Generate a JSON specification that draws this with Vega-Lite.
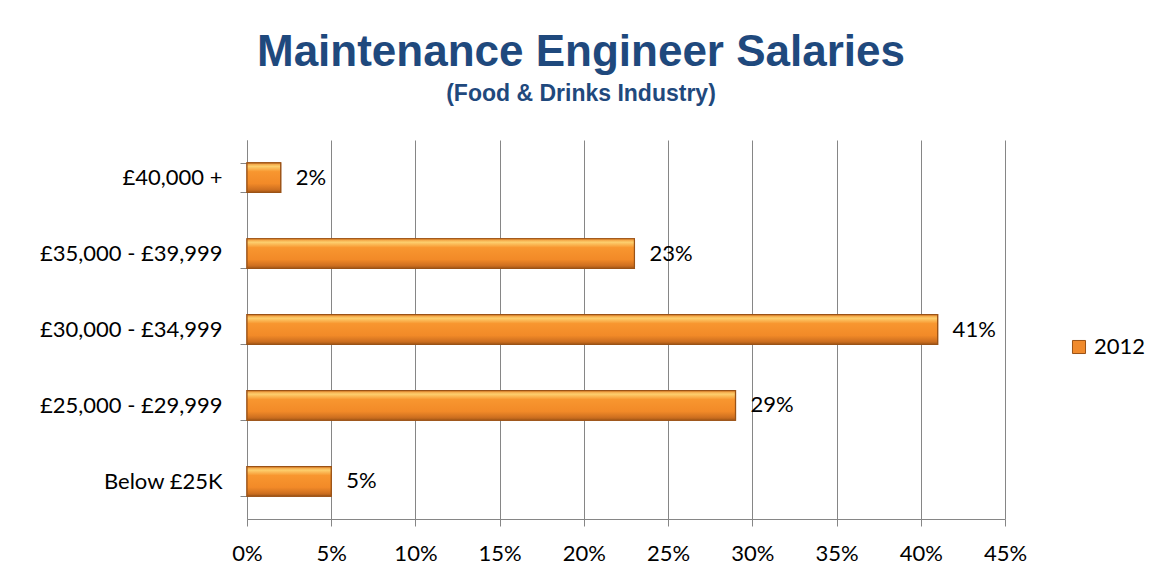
{
  "$schema": "https://vega.github.io/schema/vega-lite/v6.json",
  "autosize": {"type": "none"},
  "width": 758,
  "height": 379,
  "padding": {"left": 247, "top": 140, "right": 161, "bottom": 60},
  "background": "white",
  "config": {"view": {"stroke": null}},
  "title": {
    "text": "Maintenance Engineer Salaries",
    "subtitle": "(Food & Drinks Industry)",
    "anchor": "middle",
    "frame": "group",
    "dx": -45,
    "offset": 23,
    "font": "Liberation Sans",
    "fontSize": 44,
    "fontWeight": "bold",
    "color": "#1F497D",
    "subtitleFont": "Liberation Sans",
    "subtitleFontSize": 23,
    "subtitleFontWeight": "bold",
    "subtitleColor": "#1F497D",
    "subtitlePadding": 8
  },
  "data": {
    "values": [
      {"band": "£40,000 +", "pct": 0.02, "series": "2012"},
      {"band": "£35,000 - £39,999", "pct": 0.23, "series": "2012"},
      {"band": "£30,000 - £34,999", "pct": 0.41, "series": "2012"},
      {"band": "£25,000 - £29,999", "pct": 0.29, "series": "2012"},
      {"band": "Below £25K", "pct": 0.05, "series": "2012"}
    ]
  },
  "encoding": {
    "y": {
      "field": "band",
      "type": "nominal",
      "sort": null,
      "scale": {"paddingInner": 0.61, "paddingOuter": 0.3},
      "axis": {
        "title": null,
        "tickBand": "extent",
        "domainColor": "#868686",
        "tickColor": "#868686",
        "tickSize": 7,
        "labelPadding": 18,
        "labelLimit": 400,
        "labelFont": "Lato",
        "labelFontSize": 22,
        "labelColor": "#000000",
        "grid": false
      }
    },
    "x": {
      "field": "pct",
      "type": "quantitative",
      "scale": {"domain": [0, 0.45], "nice": false},
      "axis": {
        "title": null,
        "values": [0, 0.05, 0.1, 0.15, 0.2, 0.25, 0.3, 0.35, 0.4, 0.45],
        "format": ".0%",
        "labelFlush": false,
        "labelOverlap": false,
        "domainColor": "#868686",
        "tickColor": "#868686",
        "gridColor": "#868686",
        "gridOpacity": 1,
        "grid": true,
        "tickSize": 7,
        "labelPadding": 17,
        "labelFont": "Lato",
        "labelFontSize": 22,
        "labelColor": "#000000"
      }
    }
  },
  "layer": [
    {
      "mark": {"type": "bar", "stroke": "#9A5216", "strokeWidth": 1.2},
      "encoding": {
        "color": {
          "field": "series",
          "type": "nominal",
          "scale": {"range": ["#F08A2C"]},
          "legend": {
            "title": null,
            "orient": "none",
            "legendX": 821,
            "legendY": 196,
            "symbolType": "square",
            "symbolSize": 170,
            "symbolStrokeColor": "#9A5216",
            "symbolStrokeWidth": 1,
            "labelFont": "Lato",
            "labelFontSize": 22,
            "labelColor": "#000000"
          }
        }
      }
    },
    {
      "mark": {
        "type": "bar",
        "stroke": "#9A5216",
        "strokeWidth": 1.2,
        "fill": {"gradient": "linear", "x1": 0, "y1": 0, "x2": 0, "y2": 1,
          "stops": [
            {"offset": 0, "color": "#EE8F30"},
            {"offset": 0.12, "color": "#FDCF6E"},
            {"offset": 0.3, "color": "#F8962F"},
            {"offset": 0.7, "color": "#F28A28"},
            {"offset": 0.9, "color": "#CF7020"},
            {"offset": 1, "color": "#A85A18"}
          ]}
      }
    },
    {
      "mark": {"type": "text", "align": "left", "dx": 15, "font": "Lato", "fontSize": 22, "color": "#000000"},
      "encoding": {
        "text": {"field": "pct", "type": "quantitative", "format": ".0%"}
      }
    }
  ]
}
